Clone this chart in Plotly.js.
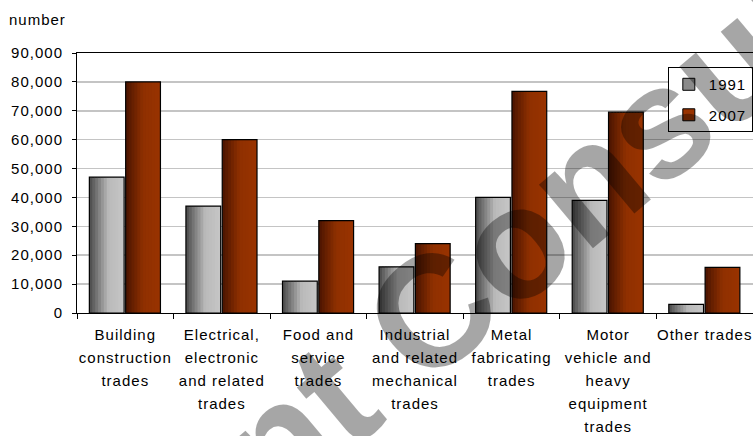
<!DOCTYPE html>
<html>
<head>
<meta charset="utf-8">
<script src="https://cdn.plot.ly/plotly-3.0.1.min.js"></script>
<style>
  html, body { margin: 0; padding: 0; background: #fff; }
  #chart { width: 753px; height: 436px; }
  .xtick text, .ytick text, .legendtext, g.annotation[data-index="0"] text { letter-spacing: 1px; }
</style>
</head>
<body>
<div id="chart"></div>
<script>
// ---- data ----
const categories = [
  "Building<br>construction<br>trades",
  "Electrical,<br>electronic<br>and related<br>trades",
  "Food and<br>service<br>trades",
  "Industrial<br>and related<br>mechanical<br>trades",
  "Metal<br>fabricating<br>trades",
  "Motor<br>vehicle and<br>heavy<br>equipment<br>trades",
  "Other trades"
];
const seriesNames = ["1991", "2007"];
const values1991 = [47000, 37000, 11000, 16000, 40000, 39000, 3000];
const values2007 = [80000, 60000, 32000, 24000, 76700, 69500, 15800];
const yTickVals = [0, 10000, 20000, 30000, 40000, 50000, 60000, 70000, 80000, 90000];
const yAxisLabel = "number";
const watermarkText = "Document Consult";

// ---- styling helpers ----
const FONT = "Liberation Sans, Arial, sans-serif";
function hexToRgb(h) { return [parseInt(h.slice(1,3),16), parseInt(h.slice(3,5),16), parseInt(h.slice(5,7),16)]; }
function gradColor(stops, t) {
  for (let i = 0; i < stops.length - 1; i++) {
    const [t0, c0] = stops[i], [t1, c1] = stops[i+1];
    if (t <= t1) {
      const f = (t - t0) / (t1 - t0);
      const a = hexToRgb(c0), b = hexToRgb(c1);
      return "rgb(" + a.map((v,k) => Math.round(v + (b[k]-v)*f)).join(",") + ")";
    }
  }
  return stops[stops.length-1][1];
}
const grayStops = [[0, "#4a4a4a"], [0.55, "#bababa"], [1, "#c6c6c6"]];
const brownStops = [[0, "#4a1400"], [0.5, "#8f3000"], [1, "#993300"]];

const barWidth = 0.36;
const series = [
  {name: seriesNames[0], y: values1991, offset: -0.372, stops: grayStops, legendColor: "#8a8a8a"},
  {name: seriesNames[1], y: values2007, offset: 0.004, stops: brownStops, legendColor: "#993300"}
];

const N = 12;
const traces = [];
series.forEach(s => {
  const sw = barWidth / N;
  for (let i = 0; i < N; i++) {
    const off = s.offset + i * sw;
    const w = Math.min(sw * 1.6, s.offset + barWidth - off);
    traces.push({
      type: "bar", x: categories, y: s.y,
      offset: off, width: w,
      marker: {color: gradColor(s.stops, (i + 0.5) / N), line: {width: 0}},
      showlegend: false, hoverinfo: "skip"
    });
  }
  traces.push({
    type: "bar", x: categories, y: s.y,
    offset: s.offset, width: barWidth,
    marker: {color: "rgba(0,0,0,0)", line: {color: "#000", width: 1.2}},
    showlegend: false, hoverinfo: "skip"
  });
});
series.forEach((s, k) => {
  traces.push({
    type: "bar", x: [categories[0]], y: [null], name: s.name,
    legendgroup: "g" + k,
    marker: {color: s.legendColor, line: {color: "#000", width: 1}},
    showlegend: true
  });
});

const layout = {
  width: 753, height: 436,
  margin: {l: 77, r: 0, t: 53, b: 123},
  paper_bgcolor: "#fff", plot_bgcolor: "#fff",
  barmode: "overlay",
  font: {family: FONT, size: 15, color: "#000"},
  showlegend: true,
  legend: {
    x: 0.874, y: 0.946, xanchor: "left", yanchor: "top",
    bgcolor: "#fff", bordercolor: "#000", borderwidth: 1,
    font: {family: FONT, size: 15, color: "#000"},
    tracegroupgap: 8, itemwidth: 30
  },
  xaxis: {
    type: "category",
    showline: true, mirror: true, linecolor: "#000", linewidth: 1,
    ticks: "outside", ticklen: 5, tickcolor: "#000", tickson: "boundaries",
    showgrid: false, zeroline: false,
    tickfont: {family: FONT, size: 15, color: "#000"},
    tickangle: 0, ticklabelstandoff: 8, fixedrange: true
  },
  yaxis: {
    range: [0, 90000], tickvals: yTickVals, tickformat: ",d",
    showline: true, linecolor: "#000", linewidth: 1,
    ticks: "outside", ticklen: 4, tickcolor: "#000",
    showgrid: true, gridcolor: "#c4c4c4", gridwidth: 1.5,
    zeroline: false,
    tickfont: {family: FONT, size: 15, color: "#000"},
    ticklabelstandoff: 6, fixedrange: true
  },
  annotations: [
    {text: yAxisLabel, xref: "paper", yref: "paper", x: -0.099, y: 1.127,
     xanchor: "left", yanchor: "middle", showarrow: false,
     font: {family: FONT, size: 15, color: "#000"}},
    {text: watermarkText, xref: "paper", yref: "paper", x: 0.33, y: -0.419,
     xanchor: "center", yanchor: "middle", showarrow: false, textangle: -40,
     font: {family: FONT, size: 158, weight: "bold", color: "rgba(0,0,0,0.35)"}}
  ]
};

Plotly.newPlot("chart", traces, layout, {staticPlot: true, displayModeBar: false}).then(gd => {
  // widen the line spacing of the multi-line category labels
  const factor = 1.18;
  gd.querySelectorAll(".xtick text tspan.line").forEach(t => {
    const dy = t.getAttribute("dy");
    if (dy && dy.endsWith("em")) {
      const v = parseFloat(dy);
      if (v) t.setAttribute("dy", (v * factor).toFixed(3) + "em");
    }
  });
});
</script>
</body>
</html>
